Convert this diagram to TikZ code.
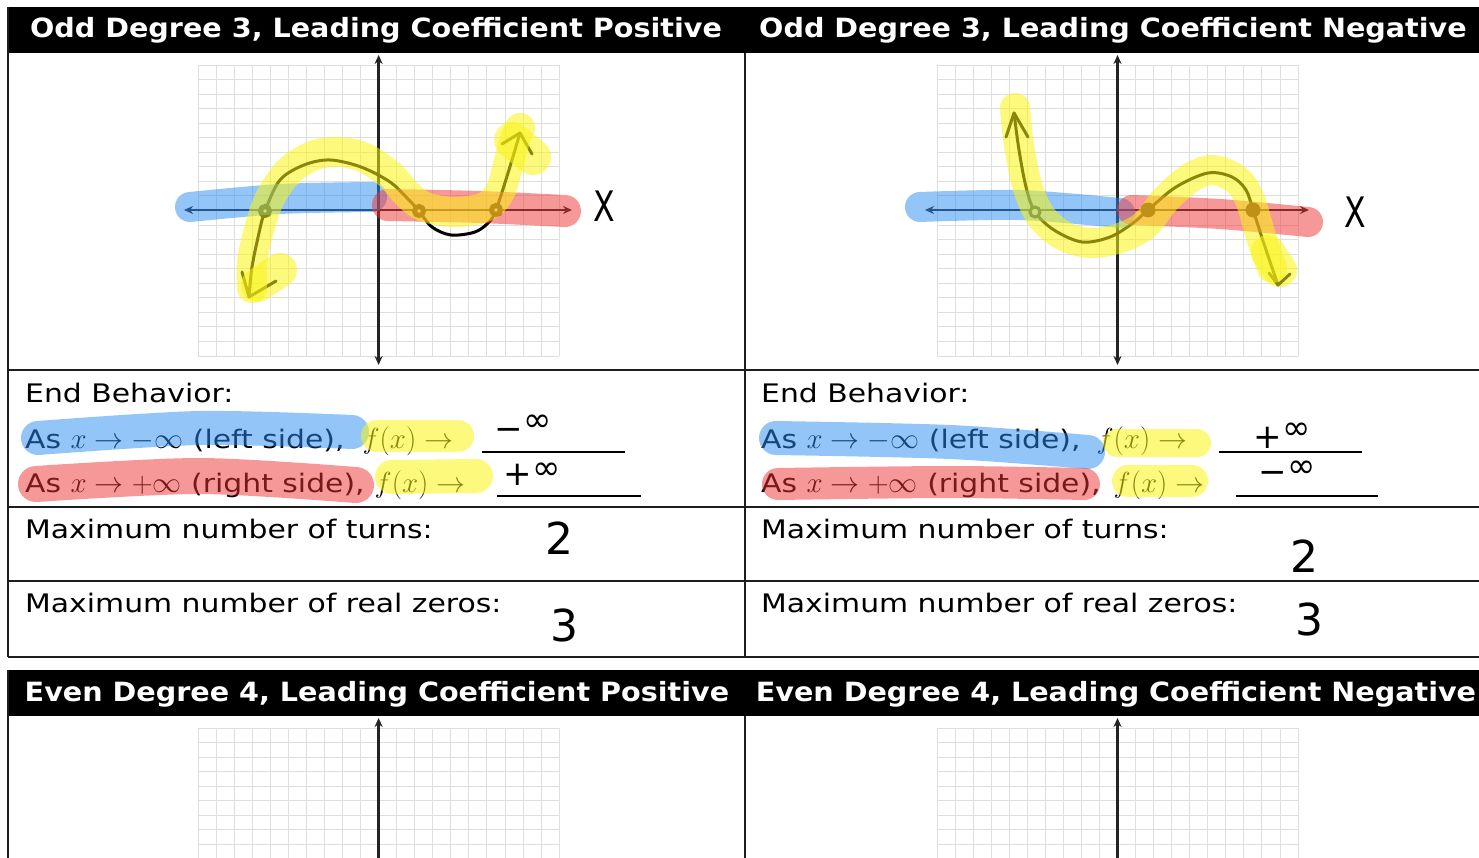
\RequirePackage{fix-cm}
\documentclass[tikz,border=0pt]{standalone}
\usepackage{fontspec}
\setmainfont{DejaVu Sans}
\newfontfamily\bodyfont[FakeStretch=1.17]{DejaVu Sans}
\newfontfamily\headfont[FakeStretch=1.08]{DejaVu Sans}
\usetikzlibrary{arrows.meta}
\definecolor{hlblue}{RGB}{40,140,245}
\definecolor{hlred}{RGB}{240,50,50}
\definecolor{hlyel}{RGB}{250,245,20}
\definecolor{gridc}{RGB}{222,222,222}
\definecolor{rulec}{RGB}{30,30,30}
\definecolor{axisc}{RGB}{35,35,35}
\newcommand\mth[1]{{\fontsize{29}{30}\selectfont$#1$}}
\tikzset{
  hlb/.style={draw=hlblue, line width=#1, line cap=round, line join=round, draw opacity=0.5},
  hlr/.style={draw=hlred, line width=#1, line cap=round, line join=round, draw opacity=0.5},
  hly/.style={draw=hlyel, line width=#1, line cap=round, line join=round, draw opacity=0.55},
  gridline/.style={draw=gridc, line width=0.9pt},
  axisline/.style={draw=axisc, line width=2.4pt, {Stealth[length=9pt,width=8pt]}-{Stealth[length=9pt,width=8pt]}},
  axisup/.style={draw=axisc, line width=2.4pt, -{Stealth[length=9pt,width=8pt]}},
  curve/.style={draw=black, line width=3pt, line cap=round, line join=round},
  rule/.style={draw=rulec, line width=1.6pt},
  headbar/.style={fill=black},
  headtxt/.style={text=white, anchor=base, inner sep=0pt, font=\headfont\bfseries\fontsize{26.5}{28}\selectfont},
  bodytxt/.style={anchor=base west, inner sep=0pt, font=\bodyfont\fontsize{25.5}{28}\selectfont},
  handtxt/.style={inner sep=0pt, font=\fontsize{34}{36}\selectfont},
  handnum/.style={inner sep=0pt, font=\fontsize{44}{46}\selectfont},
  xlab/.style={inner sep=0pt, font=\fontsize{42}{42}\selectfont},
  blank/.style={draw=black, line width=1.4pt},
  zring/.style={draw=black, line width=5pt, fill=white},
  zopen/.style={draw=black, line width=3pt, fill=white},
  zdot/.style={fill=black},
}
\newcommand\gridpanel[2]{%
  \begin{scope}[shift={(#1,#2)}]
    \foreach \i in {0,...,20}{
      \draw[gridline] ({-180.5+\i*18.05},-145.5) -- ({-180.5+\i*18.05},145.5);
      \draw[gridline] (-180.5,{-145.5+\i*14.55}) -- (180.5,{-145.5+\i*14.55});
    }
  \end{scope}}
\begin{document}
\begin{tikzpicture}[x=1pt,y=-1pt]
\useasboundingbox (0,0) rectangle (1479,858);
\clip (0,0) rectangle (1479,858);
\fill[white] (0,0) rectangle (1479,858);

% ---------- top header ----------
\fill[headbar] (8,7) rectangle (1479,53);
\node[headtxt] (h1) at (376,38) {Odd Degree 3, Leading Coefficient Positive};
\node[headtxt] (h2) at (1113,38) {Odd Degree 3, Leading Coefficient Negative};

% ---------- table rules ----------
\draw[rule] (8,7) -- (8,657);
\draw[rule] (745,53) -- (745,657);
\draw[rule] (8,370) -- (1479,370);
\draw[rule] (8,507) -- (1479,507);
\draw[rule] (8,581) -- (1479,581);
\draw[rule] (8,657) -- (1479,657);

% ---------- grids ----------
\gridpanel{378.6}{210.5}
\gridpanel{1117.5}{210.5}
\gridpanel{378.6}{873.5}
\gridpanel{1117.5}{873.5}

% axes top panels
\draw[axisline] (378.6,55) -- (378.6,365);
\draw[axisline] (184,210) -- (572,210);
\draw[axisline] (1117.5,55) -- (1117.5,365);
\draw[axisline] (925,210) -- (1309,210);

\node[xlab] (xl1) at (604,206) {\scalebox{0.75}[1]{X}};
\node[xlab] (xl2) at (1355,212) {\scalebox{0.75}[1]{X}};

% ---------- left curve ----------
\draw[curve] plot[smooth, tension=0.55] coordinates {(249,297) (252,267) (259,233) (265,211) (280,180) (304,165) (330,160) (361,167) (390,182) (409,200) (419,211) (432,227) (451,235) (475,232) (489,222) (496,210) (508,173) (520,133)};
\draw[curve] (242,272) -- (249,297) -- (276,281);
\draw[curve] (502,144) -- (520,133) -- (532,154);
\draw[zring] (265,211) circle (4.5pt);
\draw[zring] (419,211) circle (4.5pt);
\draw[zring] (496,210) circle (4.5pt);

% ---------- right curve ----------
\draw[curve] plot[smooth, tension=0.55] coordinates {(1014,113) (1019,150) (1026,187) (1035,212) (1054,230) (1082,242) (1110,237) (1133,223) (1148,210) (1176,187) (1208,173) (1232,177) (1246,190) (1253,210) (1265,247) (1278,285)};
\draw[curve] (1006,137) -- (1014,113) -- (1028,137);
\draw[curve] (1269,273) -- (1278,285) -- (1290,274);
\draw[zopen] (1035,212) circle (5pt);
\fill[zdot] (1148,210) circle (7.5pt);
\fill[zdot] (1253,210) circle (7.5pt);

% ---------- graph highlights ----------
\draw[hlb=30pt] plot[smooth] coordinates {(190,207) (280,199) (372,197)};
\draw[hlr=32pt] plot[smooth] coordinates {(388,205) (480,207) (565,211)};
\draw[hly=30pt] plot[smooth, tension=0.55] coordinates {(252,288) (252,262) (259,230) (270,198) (290,170) (315,155) (340,152) (365,158) (390,175) (408,195) (425,207) (455,212) (485,207) (500,192) (508,165) (515,140) (520,128)};
\draw[hly=34pt] (258,285) -- (280,270);
\draw[hly=36pt] (512,140) -- (533,157);

\draw[hlb=30pt] plot[smooth] coordinates {(920,207) (1020,205) (1120,213)};
\draw[hlr=30pt] plot[smooth] coordinates {(1132,210) (1220,214) (1308,222)};
\draw[hly=30pt] plot[smooth, tension=0.55] coordinates {(1015,108) (1019,145) (1027,185) (1040,215) (1062,235) (1090,243) (1120,238) (1145,225) (1165,200) (1190,178) (1213,170) (1237,180) (1250,200) (1262,240) (1272,268)};
\draw[hly=34pt] (1268,252) -- (1280,270);

% ---------- left text ----------
\node[bodytxt] (eb1) at (25,402) {End Behavior:};
\node[bodytxt] (l1a) at (25,448) {As \mth{x\rightarrow-\infty} (left side),\hspace{18pt}\mth{f(x)\rightarrow}};
\node[bodytxt] (l1b) at (25,492) {As \mth{x\rightarrow+\infty} (right side),\hspace{10pt}\mth{f(x)\rightarrow}};
\node[bodytxt] (t1) at (25,538) {Maximum number of turns:};
\node[bodytxt] (z1) at (25,612) {Maximum number of real zeros:};
\coordinate (u1a) at (482,452); \coordinate (u1b) at (625,452);
\coordinate (u2a) at (497,496); \coordinate (u2b) at (641,496);
\draw[blank] (u1a) -- (u1b);
\draw[blank] (u2a) -- (u2b);
\node[handtxt] (a1) at (523,428) {−\raisebox{9pt}{∞}};
\node[handtxt] (a2) at (532,474) {+\raisebox{6pt}{∞}};
\node[handnum] (a3) at (559,538) {2};
\node[handnum] (a4) at (564,625) {3};

% ---------- right text ----------
\node[bodytxt] (eb2) at (761,402) {End Behavior:};
\node[bodytxt] (r1a) at (761,448) {As \mth{x\rightarrow-\infty} (left side),\hspace{16pt}\mth{f(x)\rightarrow}};
\node[bodytxt] (r1b) at (761,492) {As \mth{x\rightarrow+\infty} (right side),\hspace{13pt}\mth{f(x)\rightarrow}};
\node[bodytxt] (t2) at (761,538) {Maximum number of turns:};
\node[bodytxt] (z2) at (761,612) {Maximum number of real zeros:};
\coordinate (v1a) at (1219,452); \coordinate (v1b) at (1362,452);
\coordinate (v2a) at (1236,496); \coordinate (v2b) at (1378,496);
\draw[blank] (v1a) -- (v1b);
\draw[blank] (v2a) -- (v2b);
\node[handtxt] (b1) at (1282,436) {+\raisebox{9pt}{∞}};
\node[handtxt] (b2) at (1287,472) {−\raisebox{6pt}{∞}};
\node[handnum] (b3) at (1304,556) {2};
\node[handnum] (b4) at (1309,619) {3};

% ---------- text highlights ----------
\draw[hlb=34pt] plot[smooth] coordinates {(38,438) (200,428) (352,432)};
\draw[hly=32pt] (377,436) -- (458,436);
\draw[hlr=36pt] plot[smooth] coordinates {(36,484) (200,476) (356,485)};
\draw[hly=34pt] (392,477) -- (476,476);

\draw[hlb=34pt] plot[smooth] coordinates {(776,438) (950,442) (1088,452)};
\draw[hly=28pt] (1117,443) -- (1197,443);
\draw[hlr=32pt] plot[smooth] coordinates {(778,484) (950,482) (1084,484)};
\draw[hly=32pt] (1128,481) -- (1192,481);

% ---------- bottom header & panels ----------
\fill[headbar] (8,670) rectangle (1479,716);
\node[headtxt] (h3) at (377,701) {Even Degree 4, Leading Coefficient Positive};
\node[headtxt] (h4) at (1116,701) {Even Degree 4, Leading Coefficient Negative};
\draw[rule] (8,670) -- (8,858);
\draw[rule] (745,716) -- (745,858);
\draw[axisup] (378.6,870) -- (378.6,718);
\draw[axisup] (1117.5,870) -- (1117.5,718);
\end{tikzpicture}
\end{document}
